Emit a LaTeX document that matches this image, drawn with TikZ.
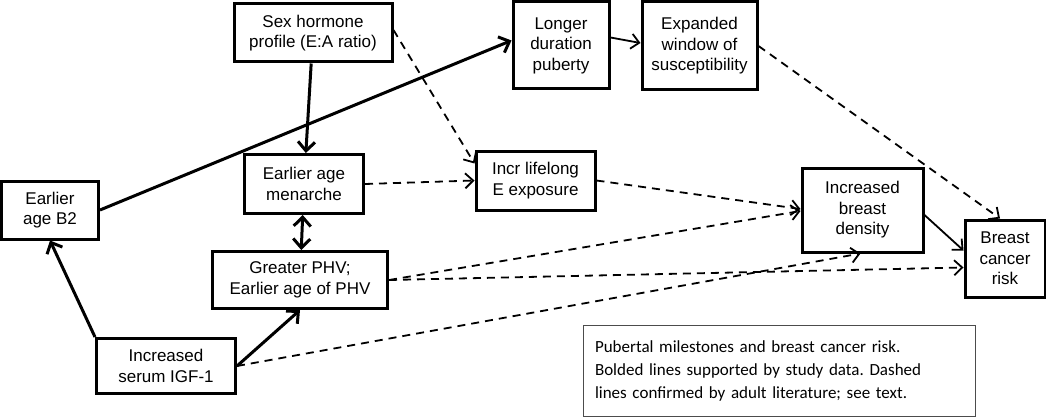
\documentclass[tikz,border=0pt]{standalone}
\usepackage{fontspec}
\setmainfont{Liberation Sans}
\newfontfamily\notefont{Carlito}
\usetikzlibrary{arrows.meta}

\tikzset{
  box/.style={draw, line width=3pt, align=center, inner sep=0pt,
    font=\fontsize{17}{20.5}\selectfont},
  bold/.style={line width=3pt, -{Straight Barb[length=9pt,width=17pt]}},
  boldboth/.style={line width=3pt, {Straight Barb[length=9pt,width=17pt]}-{Straight Barb[length=9pt,width=17pt]}},
  thinarrow/.style={line width=1.8pt, -{Straight Barb[length=8pt,width=15pt]}},
  dasharrow/.style={thinarrow, dash pattern=on 8pt off 6pt}
}

\begin{document}
\begin{tikzpicture}[x=1pt,y=-1pt]
  \useasboundingbox (0,0) rectangle (1046,417);
  % boxes
  \node[box, minimum width=158pt, minimum height=58pt] (sex) at (313,33) {Sex hormone\\profile (E:A ratio)};
  \node[box, minimum width=119pt, minimum height=59pt] (menarche) at (304,184) {Earlier age\\menarche};
  \node[box, minimum width=97pt, minimum height=58pt] (b2) at (50,210) {Earlier\\age B2};
  \node[box, minimum width=96pt, minimum height=87pt] (longer) at (561,45.5) {Longer\\duration\\puberty};
  \node[box, minimum width=115pt, minimum height=88pt] (window) at (699.5,46) {Expanded\\window of\\susceptibility};
  \node[box, minimum width=119pt, minimum height=59pt] (incr) at (535.5,180.5) {Incr lifelong\\E exposure};
  \node[box, minimum width=121pt, minimum height=84pt] (density) at (862.5,210) {Increased\\breast\\density};
  \node[box, minimum width=80pt, minimum height=77pt] (cancer) at (1005,258.5) {Breast\\cancer\\risk};
  \node[box, minimum width=175pt, minimum height=57pt] (phv) at (300,280) {Greater PHV;\\Earlier age of PHV};
  \node[box, minimum width=139pt, minimum height=55pt] (igf) at (166,366) {Increased\\serum IGF-1};
  \node[draw=black!70, line width=1pt, minimum width=392pt, minimum height=91pt,
    text width=368pt, inner xsep=12pt, align=left,
    font=\notefont\frenchspacing\fontsize{17}{23}\selectfont] (note) at (779,371)
    {Pubertal milestones and breast cancer risk.\\Bolded lines supported by study data. Dashed\\lines confirmed by adult literature; see text.};

  % study data
  \draw[bold] (b2.east) -- ([yshift=5pt]longer.west);
  \draw[bold] (sex) -- (menarche);
  \draw[boldboth] (menarche) -- (phv);
  \draw[bold] (igf.north west) -- (b2.south);
  \draw[bold] (igf.east) -- (phv.south);
  \draw[thinarrow] ([yshift=8pt]longer.east) -- ([yshift=3pt]window.west);
  \draw[thinarrow] ([yshift=-5pt]density.east) -- ([yshift=8pt]cancer.west);

  % adult literature
  \draw[dasharrow] ([yshift=3pt]sex.east) -- ([yshift=17pt]incr.west);
  \draw[dasharrow] (menarche.east) -- (incr.west);
  \draw[dasharrow] (incr.east) -- ([yshift=1pt]density.west);
  \draw[dasharrow] (phv.east) -- ([yshift=-1pt]density.west);
  \draw[dasharrow] (phv.east) -- ([yshift=-9pt]cancer.west);
  \draw[dasharrow] (igf.east) -- ([xshift=-2pt]density.south);
  \draw[dasharrow] (window.east) -- ([xshift=-5pt]cancer.north);
\end{tikzpicture}
\end{document}
